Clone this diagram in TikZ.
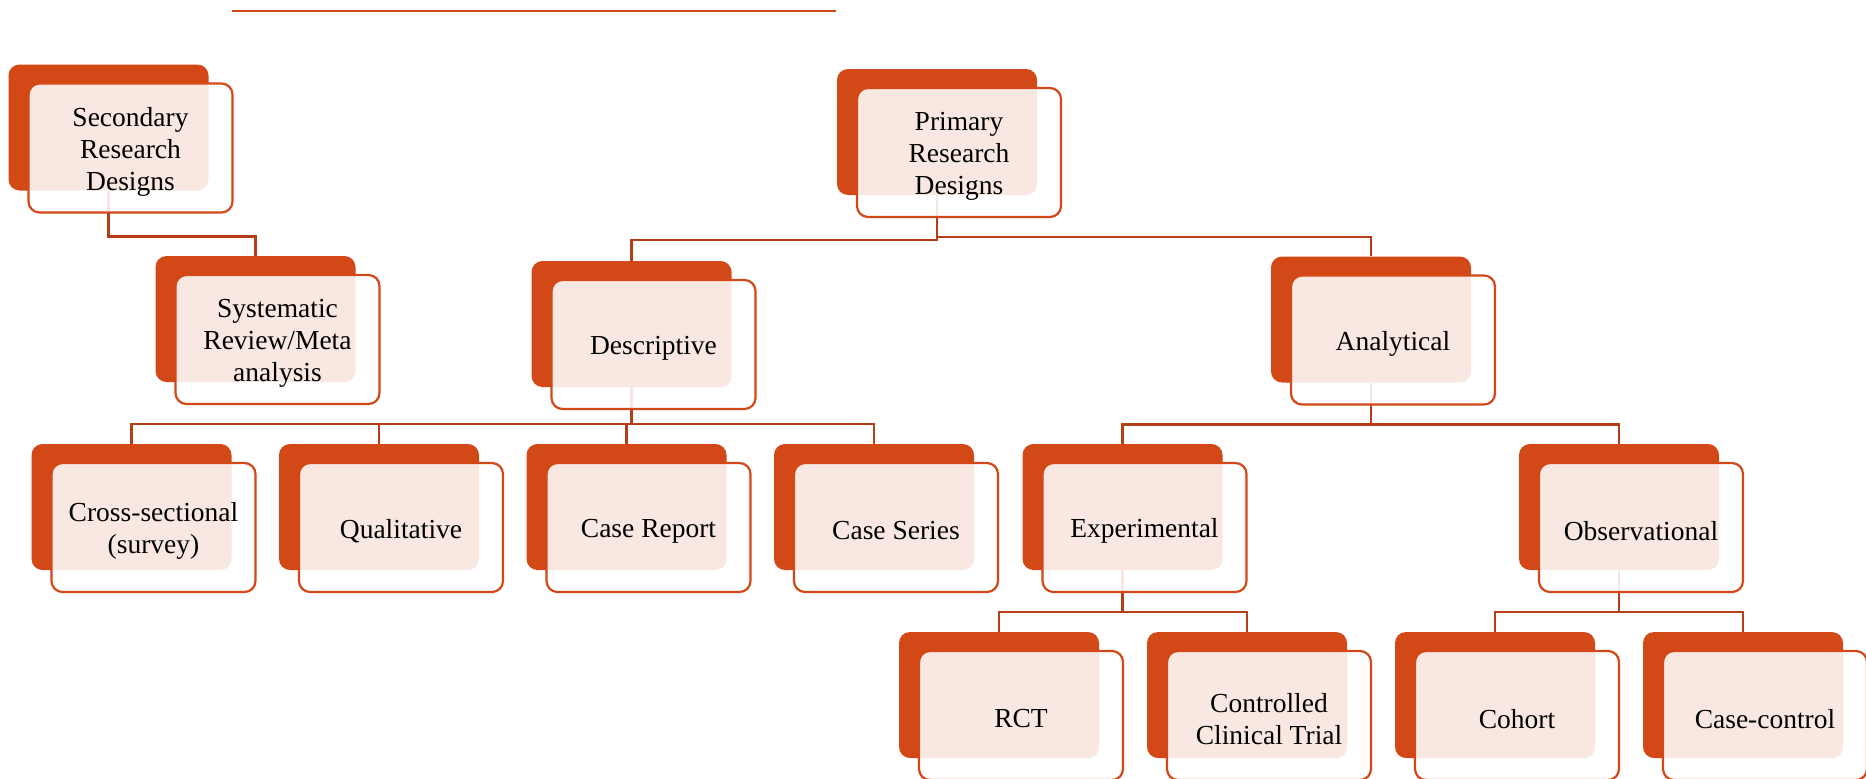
\documentclass[tikz,border=0pt]{standalone}
\usepackage{fontspec}
\setmainfont{Liberation Serif}
\definecolor{org}{HTML}{D34817}
\definecolor{lnk}{HTML}{B53E16}
\newcommand\backnode[3]{\node[backbox] (#1) at (#2,#3) {};}
\newcommand\frontnode[2]{\node[frontbox] (#1f) at ([shift={(22,20.5)}]#1.center) {};
  \node[fronttext] (#1t) at ([yshift=-3.5pt]#1f.center) {#2};}
\begin{document}
\begin{tikzpicture}[x=1pt,y=-1pt,
  backbox/.style={fill=org, draw=none, rounded corners=11pt, minimum width=200pt, minimum height=126pt, inner sep=0pt},
  frontbox/.style={draw=org, line width=2.2pt, fill=white, fill opacity=0.88, draw opacity=1,
    rounded corners=11pt, minimum width=204pt, minimum height=129pt, inner sep=0pt},
  fronttext/.style={inner sep=0pt, align=center, font=\fontsize{27.5}{32}\selectfont},
  link/.style={draw=lnk, line width=2.5pt},
  topline/.style={draw=org, line width=2pt}]
\path[use as bounding box] (0,0) rectangle (1866,779);
\clip (0,0) rectangle (1866,779);
\draw[topline] (232,11) -- (836,11);
% back rectangles
\backnode{sec}{108.5}{127.5}
\backnode{pri}{937}{132}
\backnode{sys}{255.5}{319}
\backnode{des}{631.5}{324}
\backnode{ana}{1371}{319.5}
\backnode{cro}{131.5}{507}
\backnode{qua}{379}{507}
\backnode{cre}{626.5}{507}
\backnode{cse}{874}{507}
\backnode{exp}{1122.5}{507}
\backnode{obs}{1619}{507}
\backnode{rct}{999}{695}
\backnode{cct}{1247}{695}
\backnode{coh}{1495}{695}
\backnode{cac}{1743}{695}
% connectors
\draw[link] (sec.south) -- ++(0,46) -| (sys.north);
\draw[link] (pri.south) -- ++(0,45) -| (des.north);
\draw[link] (pri.south) -- ++(0,42) -| (ana.north);
\foreach \c in {cro,qua,cre,cse}{\draw[link] (des.south) -- ++(0,37) -| (\c.north);}
\foreach \c in {exp,obs}{\draw[link] (ana.south) -- ++(0,42) -| (\c.north);}
\foreach \c in {rct,cct}{\draw[link] (exp.south) -- ++(0,42) -| (\c.north);}
\foreach \c in {coh,cac}{\draw[link] (obs.south) -- ++(0,42) -| (\c.north);}
% front rectangles
\frontnode{sec}{Secondary\\Research\\Designs}
\frontnode{pri}{Primary\\Research\\Designs}
\frontnode{sys}{Systematic\\Review/Meta\\analysis}
\frontnode{des}{Descriptive}
\frontnode{ana}{Analytical}
\frontnode{cro}{Cross-sectional\\(survey)}
\frontnode{qua}{Qualitative}
\frontnode{cre}{Case Report}
\frontnode{cse}{Case Series}
\frontnode{exp}{Experimental}
\frontnode{obs}{Observational}
\frontnode{rct}{RCT}
\frontnode{cct}{Controlled\\Clinical Trial}
\frontnode{coh}{Cohort}
\frontnode{cac}{Case-control}
\end{tikzpicture}
\end{document}
